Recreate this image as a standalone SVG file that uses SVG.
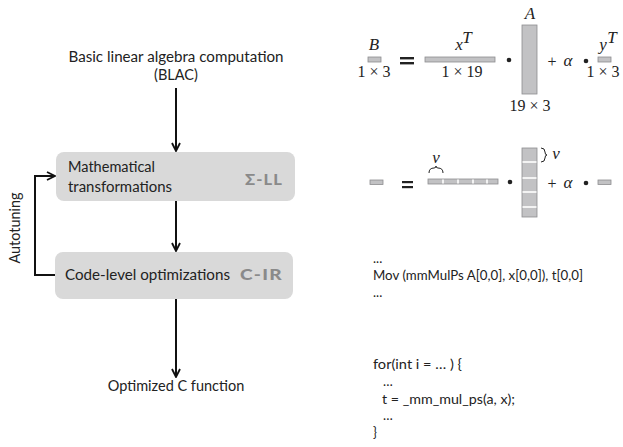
<svg xmlns="http://www.w3.org/2000/svg" width="623" height="447" viewBox="0 0 623 447">
  <defs>
    <style>
      .lbl { font-family: Lato, "Open Sans", "Liberation Sans", sans-serif; font-size: 14.5px; fill: #222; }
      .tag { font-family: Lato, "Open Sans", "Liberation Sans", sans-serif; font-size: 15px; font-weight: 900; fill: #8a8a8a; letter-spacing: 1px; }
      .code { font-family: Lato, "Open Sans", "Liberation Sans", sans-serif; font-size: 13px; fill: #222; }
      .box { fill: #d9d9d9; }
      .wire { fill: none; stroke: #111; stroke-width: 2; }
      .mi { font-family: "Liberation Serif", "DejaVu Serif", serif; font-style: italic; font-size: 17px; fill: #222; }
      .mn { font-family: "Liberation Serif", "DejaVu Serif", serif; font-size: 16px; fill: #222; }
      .mat { fill: #c2c2c4; stroke: #8d8d90; stroke-width: 0.8; }
      .sep { stroke: #fff; stroke-width: 1.6; }
      .op { fill: #222; }
    </style>
    <marker id="head" viewBox="0 0 10 10" refX="9" refY="5" markerWidth="10" markerHeight="10" markerUnits="userSpaceOnUse" orient="auto">
      <path d="M1,1 L9,5 L1,9" fill="none" stroke="#111" stroke-width="1.8"/>
    </marker>
  </defs>

  <!-- pipeline -->
  <g id="blac">
    <text class="lbl" x="176" y="62" text-anchor="middle" textLength="215" lengthAdjust="spacingAndGlyphs">Basic linear algebra computation</text>
    <text class="lbl" x="176" y="80" text-anchor="middle">(BLAC)</text>
  </g>
  <g id="math-transform">
    <rect class="box" x="56" y="152" width="239" height="49" rx="8"/>
    <text class="lbl" x="68" y="172" textLength="87" lengthAdjust="spacingAndGlyphs">Mathematical</text>
    <text class="lbl" x="68" y="192" textLength="104" lengthAdjust="spacingAndGlyphs">transformations</text>
    <text class="tag" x="245" y="185" textLength="38" lengthAdjust="spacingAndGlyphs">Σ-LL</text>
  </g>
  <g id="code-opt">
    <rect class="box" x="55" y="252" width="238" height="47" rx="8"/>
    <text class="lbl" x="65" y="280" textLength="165" lengthAdjust="spacingAndGlyphs">Code-level optimizations</text>
    <text class="tag" x="240" y="280" textLength="43" lengthAdjust="spacingAndGlyphs">C-IR</text>
  </g>
  <g id="output">
    <text class="lbl" x="176" y="391" text-anchor="middle">Optimized C function</text>
  </g>
  <g id="autotuning-label">
    <text class="lbl" transform="translate(20,228) rotate(-90)" text-anchor="middle" textLength="71" lengthAdjust="spacingAndGlyphs">Autotuning</text>
  </g>

  <g id="connectors">
    <line class="wire" x1="176" y1="88" x2="176" y2="151" marker-end="url(#head)"/>
    <line class="wire" x1="176" y1="201" x2="176" y2="251" marker-end="url(#head)"/>
    <line class="wire" x1="176" y1="299" x2="176" y2="377" marker-end="url(#head)"/>
    <polyline class="wire" points="55,275 35,275 35,176 55,176" marker-end="url(#head)"/>
  </g>

  <!-- matrix-level equation -->
  <g id="eq-matrix">
    <text class="mi" x="374" y="50" text-anchor="middle">B</text>
    <rect class="mat" x="368" y="57" width="13" height="5"/>
    <text class="mn" x="374" y="77" text-anchor="middle">1 × 3</text>

    <rect class="op" x="400" y="57" width="14" height="2.4"/>
    <rect class="op" x="400" y="62" width="14" height="2.4"/>

    <text class="mi" x="459" y="50" text-anchor="middle">x</text>
    <text class="mi" x="467" y="43" font-size="11" text-anchor="middle">T</text>
    <rect class="mat" x="425" y="57" width="70" height="5"/>
    <text class="mn" x="462" y="77" text-anchor="middle">1 × 19</text>

    <circle class="op" cx="509" cy="60" r="2.3"/>

    <text class="mi" x="530" y="19" text-anchor="middle">A</text>
    <rect class="mat" x="522" y="25" width="15" height="69"/>
    <text class="mn" x="530" y="111" text-anchor="middle">19 × 3</text>

    <text class="mn" x="552" y="67" text-anchor="middle">+</text>
    <text class="mi" x="568" y="66" text-anchor="middle">α</text>
    <circle class="op" cx="586" cy="61" r="2.3"/>

    <text class="mi" x="603" y="50" text-anchor="middle">y</text>
    <text class="mi" x="612" y="43" font-size="11" text-anchor="middle">T</text>
    <rect class="mat" x="598" y="57" width="13" height="5"/>
    <text class="mn" x="603" y="77" text-anchor="middle">1 × 3</text>
  </g>

  <!-- vectorized equation -->
  <g id="eq-vector">
    <rect class="mat" x="370" y="180" width="13" height="4.5"/>

    <rect class="op" x="402" y="181" width="11" height="2.2"/>
    <rect class="op" x="402" y="186" width="11" height="2.2"/>

    <text class="mi" x="436" y="163" text-anchor="middle">ν</text>
    <path d="M429,173 Q429,168 434,168 Q436,168 436,166 Q436,168 438,168 Q443,168 443,173" fill="none" stroke="#222" stroke-width="1"/>
    <rect class="mat" x="428" y="179" width="70" height="5"/>
    <line class="sep" x1="443" y1="179.5" x2="443" y2="183.5"/>
    <line class="sep" x1="458" y1="179.5" x2="458" y2="183.5"/>
    <line class="sep" x1="473" y1="179.5" x2="473" y2="183.5"/>
    <line class="sep" x1="487" y1="179.5" x2="487" y2="183.5"/>

    <circle class="op" cx="510" cy="182" r="2.3"/>

    <rect class="mat" x="522" y="148" width="15" height="69"/>
    <line class="sep" x1="522.5" y1="162" x2="536.5" y2="162"/>
    <line class="sep" x1="522.5" y1="178" x2="536.5" y2="178"/>
    <line class="sep" x1="522.5" y1="192" x2="536.5" y2="192"/>
    <line class="sep" x1="522.5" y1="207" x2="536.5" y2="207"/>
    <path d="M541,148 Q545,148 545,152 Q545,155 547,155 Q545,155 545,158 Q545,162 541,162" fill="none" stroke="#222" stroke-width="1"/>
    <text class="mi" x="556" y="159" text-anchor="middle">ν</text>

    <text class="mn" x="552" y="189" text-anchor="middle">+</text>
    <text class="mi" x="568" y="188" text-anchor="middle">α</text>
    <circle class="op" cx="586" cy="183" r="2.3"/>
    <rect class="mat" x="598" y="180" width="13" height="4.5"/>
  </g>

  <!-- C-IR listing -->
  <g id="cir-code">
    <text class="code" x="373" y="263">...</text>
    <text class="code" x="373" y="280" textLength="210" lengthAdjust="spacingAndGlyphs">Mov (mmMulPs A[0,0], x[0,0]), t[0,0]</text>
    <text class="code" x="373" y="297">...</text>
  </g>

  <!-- generated C code -->
  <g id="c-code">
    <text class="code" x="373" y="369" textLength="89" lengthAdjust="spacingAndGlyphs">for(int i = … ) {</text>
    <text class="code" x="383" y="386">…</text>
    <text class="code" x="382" y="404" textLength="133" lengthAdjust="spacingAndGlyphs">t = _mm_mul_ps(a, x);</text>
    <text class="code" x="383" y="420">…</text>
    <text class="code" x="373" y="437">}</text>
  </g>
</svg>
